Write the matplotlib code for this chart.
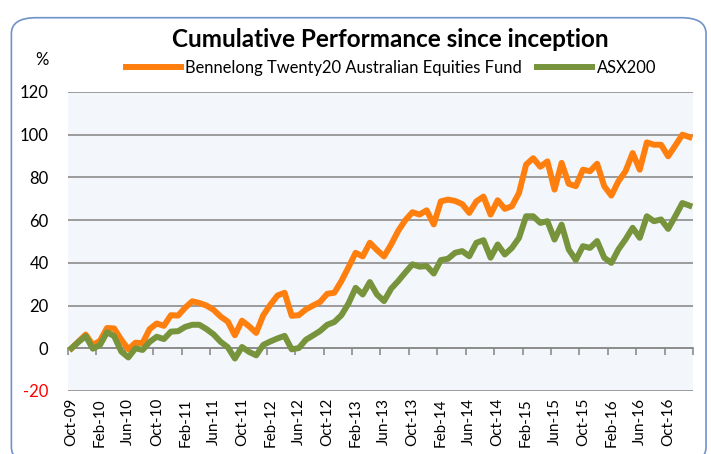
import matplotlib
matplotlib.use("Agg")
import matplotlib.pyplot as plt
import numpy as np
import pandas as pd
from matplotlib.patches import FancyBboxPatch

plt.rcParams['font.family'] = ['Lato', 'DejaVu Sans']

# monthly series, Oct-09 .. Jan-17
months = pd.date_range('2009-10-01', periods=88, freq='MS')
month_labels = [d.strftime('%b-%y') for d in months]

fund = [0, 3.2, 6.4, 1.5, 3.5, 9.5, 9.3, 4, -0.5, 2.6,
        2.4, 9, 11.6, 10.5, 15.5, 15.3, 19, 22, 21.2, 20,
        18, 14.8, 12.5, 6.1, 12.9, 10.3, 7.2, 15.5, 20.4, 24.7,
        26, 15.2, 15.5, 18.2, 20, 21.7, 25.5, 26, 31.5, 38,
        44.7, 43, 49.4, 46, 43, 48.6, 55, 60, 63.7, 62.6,
        64.6, 58, 68.8, 69.6, 69, 67.5, 63.4, 68.8, 71, 62.6,
        69.3, 65.3, 66.5, 72.7, 86, 89, 85, 87.5, 74.3, 86.8,
        77, 75.9, 83.6, 82.9, 86.4, 75.9, 71.5, 78.2, 82.9, 91.4,
        83.6, 96.4, 95.3, 95.3, 89.9, 94.9, 100, 98.9]

asx200 = [0, 3, 5.7, -0.2, 1.5, 7.5, 5.7, -1.5, -4.3, 0,
          -0.8, 3, 5.4, 4.3, 7.8, 8, 10, 11, 11, 9,
          6.5, 3, 0.5, -4.8, 0.6, -1.7, -3.3, 1.6, 3.2, 4.6,
          5.8, -0.5, 0.1, 4, 6, 8.1, 11, 12.3, 15.5, 21,
          28.3, 25.2, 31, 25.2, 22.1, 27.9, 31.5, 35.5, 39.3, 38.2,
          38.5, 35, 41.3, 41.9, 44.7, 45.5, 43.1, 49.4, 50.6, 42.4,
          48.6, 43.9, 47, 51.7, 61.8, 61.8, 58.7, 59.5, 50.9, 57.9,
          46.3, 41.3, 47.8, 47, 50.2, 42.4, 40, 46.3, 51, 56.4,
          51.7, 61.8, 59.5, 60.3, 55.9, 61.8, 68, 66.8]

y_ticks = [-20, 0, 20, 40, 60, 80, 100, 120]

fig = plt.figure(figsize=(7.11, 4.54), dpi=100)

# rounded frame round the chart (bottom runs off the picture)
frame = FancyBboxPatch((0.016, -0.02), 0.977, 0.981,
                       boxstyle="round,pad=0,rounding_size=0.035",
                       transform=fig.transFigure, fill=False,
                       edgecolor='#6f92c9', linewidth=1.2, clip_on=False)
fig.patches.append(frame)

ax = fig.add_axes([0.0956, 0.1388, 0.8791, 0.6586])
ax.set_facecolor('#f3f6fb')

x = np.arange(len(months))
ax.plot(x, fund, color='#ff7f0e', lw=4.3, solid_joinstyle='round',
        label='Bennelong Twenty20 Australian Equities Fund', zorder=3)
ax.plot(x, asx200, color='#77933c', lw=4.3, solid_joinstyle='round',
        label='ASX200', zorder=4)

ax.set_xlim(-0.5, len(months) - 0.5)
ax.set_ylim(-20, 120)
ax.set_yticks(y_ticks)
ax.set_yticklabels([str(v) for v in y_ticks], fontsize=12)
ax.get_yticklabels()[0].set_color('red')
ax.tick_params(axis='y', length=0, pad=14)
ax.yaxis.grid(True, color='#8c8c8c', lw=1.2)
ax.set_axisbelow(True)

label_pos = x[::4]
ax.set_xticks(label_pos)
ax.set_xticklabels(month_labels[::4], rotation=90, fontsize=11, va='top')
ax.tick_params(axis='x', length=0, pad=5)

for s in ax.spines.values():
    s.set_visible(False)

# axis line with tick marks at zero
zero_loc = (0 - y_ticks[0]) / (y_ticks[-1] - y_ticks[0])
sec = ax.secondary_xaxis(zero_loc)
sec.set_xticks(np.arange(-0.5, len(months), 4))
sec.set_xticklabels([])
sec.tick_params(axis='x', direction='out', length=5, color='#8c8c8c', width=1.2)
sec.spines['bottom'].set_color('#8c8c8c')
sec.spines['bottom'].set_linewidth(1.2)

fig.text(0.549, 0.912, 'Cumulative Performance since inception',
         ha='center', va='center', fontsize=17.5, fontweight='bold')
fig.text(0.059, 0.868, '%', ha='center', va='center', fontsize=12)
fig.legend(loc='center', bbox_to_anchor=(0.55, 0.85), ncol=2, frameon=False,
           fontsize=11.9, handlelength=3.3, handletextpad=0.3, columnspacing=0.9)

fig.savefig('out.png', dpi=100)
